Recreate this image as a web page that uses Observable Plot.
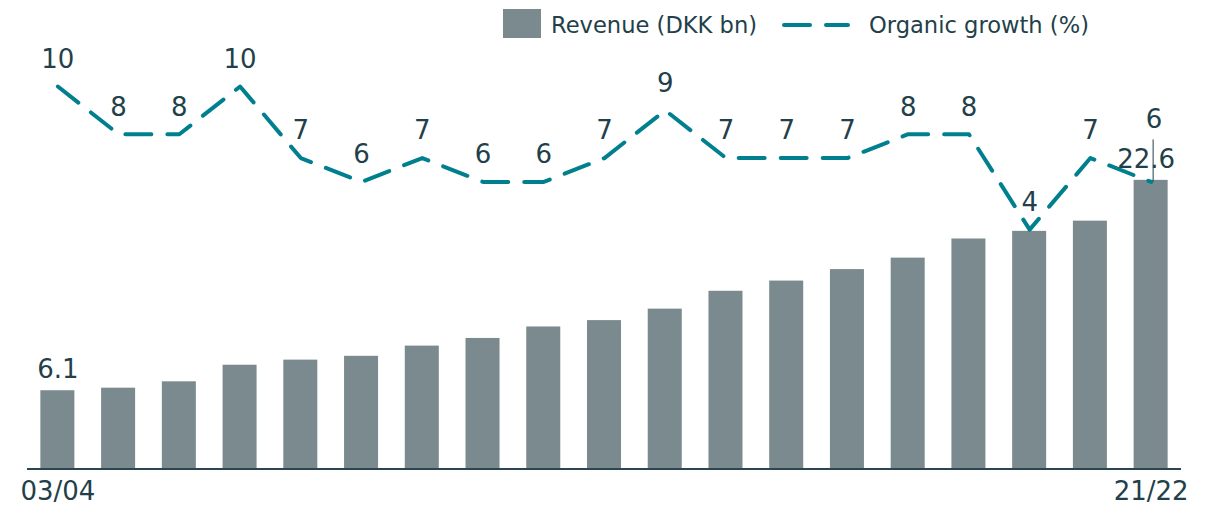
<!DOCTYPE html>
<html>
<head>
<meta charset="utf-8">
<script src="https://cdn.jsdelivr.net/npm/d3@7"></script>
<script src="https://cdn.jsdelivr.net/npm/@observablehq/plot@0.6"></script>
<style>
  html, body { margin: 0; padding: 0; background: #fff; }
  body { width: 1211px; height: 509px; overflow: hidden; font-family: "DejaVu Sans", sans-serif; color: #233f4a; }
  #legend { position: relative; height: 45px; }
  .sw { position: absolute; left: 503px; top: 9px; width: 38px; height: 29px; background: #7b8a8e; }
  .lt { position: absolute; top: 9px; font-size: 22.6px; line-height: 32px; white-space: nowrap; }
  .ll { position: absolute; left: 780px; top: 13px; }
</style>
</head>
<body>
<div id="legend">
  <div class="sw"></div>
  <div class="lt" style="left:551px">Revenue (DKK bn)</div>
  <svg class="ll" width="72" height="24"><path d="M4,12H68" stroke="#00808f" stroke-width="4" stroke-linecap="round" stroke-dasharray="26,16" fill="none"/></svg>
  <div class="lt" style="left:869px">Organic growth (%)</div>
</div>
<div id="chart"></div>
<script>
const years = ["03/04","04/05","05/06","06/07","07/08","08/09","09/10","10/11","11/12","12/13","13/14","14/15","15/16","16/17","17/18","18/19","19/20","20/21","21/22"];
const revenue = [6.1, 6.3, 6.8, 8.1, 8.5, 8.8, 9.6, 10.2, 11.1, 11.6, 12.5, 13.9, 14.7, 15.6, 16.5, 18.0, 18.6, 19.4, 22.6];
const growth = [10, 8, 8, 10, 7, 6, 7, 6, 6, 7, 9, 7, 7, 7, 8, 8, 4, 7, 6];
const tickLabels = ["03/04", "21/22"];
const revenueLabels = [0, 18]; // indices with value labels

const barColor = "#7b8a8e";
const lineColor = "#00808f";
const textColor = "#233f4a";

// secondary axis for growth mapped onto revenue units
const g2r = d3.scaleLinear().domain([0, 10]).range([11.25, 29.96]);

const rows = years.map((y, i) => ({year: y, revenue: revenue[i], growth: growth[i], gy: g2r(growth[i]), i}));
const last = rows[rows.length - 1];
const n = rows.length;

const chart = Plot.plot({
  width: 1211,
  height: 464,
  marginLeft: 27,
  marginRight: 30,
  marginTop: 0,
  marginBottom: 41,
  style: {fontFamily: "DejaVu Sans, sans-serif", color: textColor, background: "#fff"},
  x: {type: "band", domain: years, paddingInner: 0.44, paddingOuter: 0.22, round: false, axis: null},
  y: {domain: [0, 423 / 12.75], axis: null},
  marks: [
    Plot.barY(rows, {x: "year", y: "revenue", fill: barColor}),
    Plot.ruleY([0], {stroke: "#2b4650", strokeWidth: 2, dy: 0.5}),
    Plot.axisX(tickLabels, {tickSize: 0, tickPadding: 0, dy: 13, fontSize: 26, fill: textColor, label: null, tickFormat: d => d}),
    Plot.line(rows, {x: "year", y: "gy", stroke: lineColor, strokeWidth: 4, strokeDasharray: "26,16", strokeLinecap: "round", strokeLinejoin: "round"}),
    Plot.text(rows.filter(d => d.i < n - 1), {x: "year", y: "gy", text: d => String(d.growth), dy: -27, fontSize: 26, fill: textColor}),
    Plot.ruleX([last], {x: "year", y1: "gy", y2: d => g2r(d.growth + 1.76), dx: 2, stroke: textColor, strokeWidth: 1}),
    Plot.text([last], {x: "year", y: "gy", text: d => String(d.growth), dy: -62, dx: 3, fontSize: 26, fill: textColor}),
    Plot.text(rows.filter(d => d.i === revenueLabels[0]), {x: "year", y: "revenue", text: d => d.revenue.toFixed(1), dy: -21, fontSize: 26, fill: textColor}),
    Plot.text(rows.filter(d => d.i === revenueLabels[1]), {x: "year", y: "revenue", text: d => d.revenue.toFixed(1), dy: -21, dx: -5, fontSize: 26, fill: textColor})
  ]
});
document.getElementById("chart").appendChild(chart);
</script>
</body>
</html>
